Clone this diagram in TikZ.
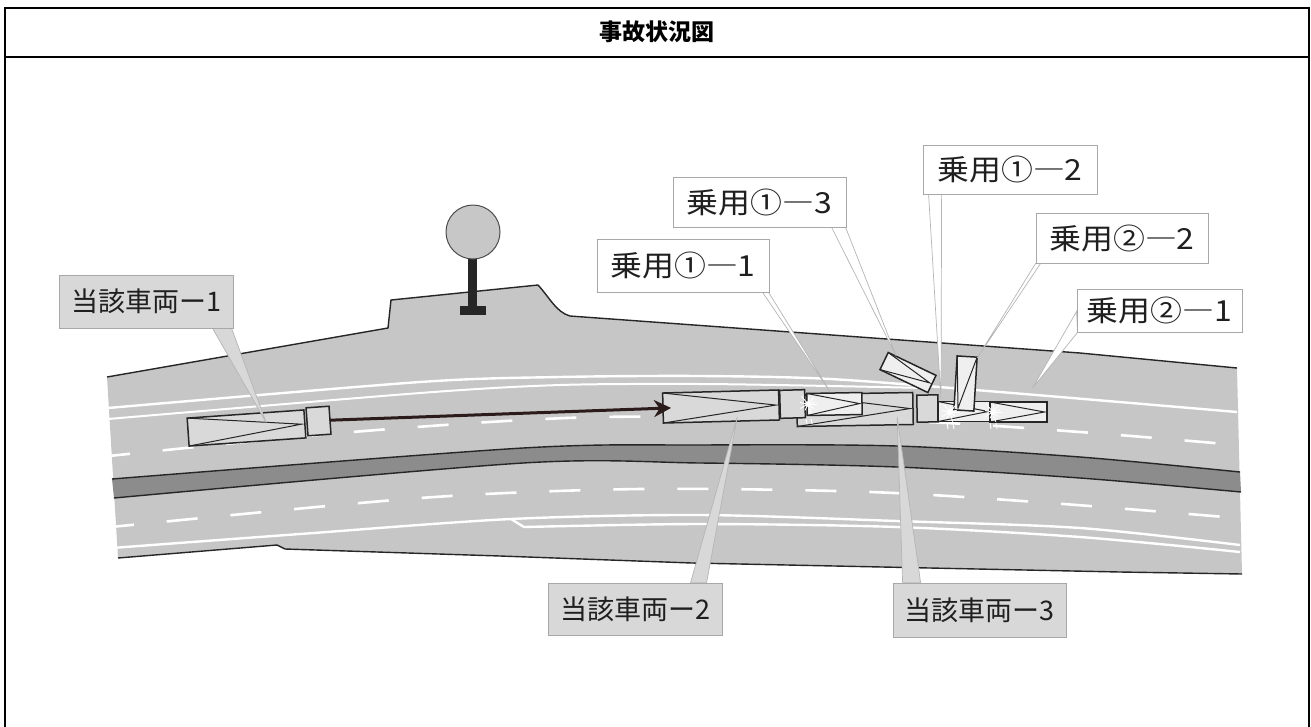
\documentclass[tikz,border=0pt]{standalone}
\usepackage{fontspec}
\setmainfont{Noto Sans CJK JP}
\usetikzlibrary{arrows.meta,calc}
\pgfdeclarelayer{ground}
\pgfdeclarelayer{leaders}
\pgfsetlayers{ground,leaders,main}

\definecolor{roadgray}{HTML}{C6C6C6}
\definecolor{mediangray}{HTML}{8C8C8C}
\definecolor{truckfill}{HTML}{D9D9D9}
\definecolor{carfill}{HTML}{EFEFEF}
\definecolor{tagfill}{HTML}{D8D8D8}
\definecolor{tagline}{HTML}{A8A8A8}
\definecolor{outline}{HTML}{262626}
\definecolor{arrowdark}{HTML}{2B1B1B}

\begin{document}
\begin{tikzpicture}[x=1pt,y=-1pt,
  kerb/.style={draw=outline,line width=1.4pt,line join=round},
  marking/.style={draw=white,line width=2.4pt},
  lanedash/.style={draw=white,line width=2.6pt,dash pattern=on 31pt off 33pt},
  truckbody/.style={draw=outline,fill=truckfill,line width=1.5pt},
  carbody/.style={draw=outline,fill=carfill,line width=1.5pt},
  vline/.style={draw=outline,line width=1pt},
  labelbox/.style={draw=tagline,line width=0.8pt,fill=tagfill,inner sep=0pt,
    text=black!88,font=\fontsize{27}{30}\selectfont},
  carlabel/.style={labelbox,fill=white,
    font=\fontsize{29}{32}\selectfont\addfontfeature{FakeStretch=1.1}},
  leadwedge/.style={draw=tagline!85,line width=0.7pt,fill=tagfill},
  carlead/.style={leadwedge,fill=white},
  crashmark/.pic={
    \fill[white,opacity=0.8] (0,0) circle (3pt);
    \foreach \a/\r in {0/9,40/7,75/10,115/7,150/9,190/8,230/10,270/7,310/9,345/7}
      \draw[white,line width=0.9pt] (0,0) -- (\a:\r);
  },
  skid/.style={draw=white,line width=1pt}
]
\useasboundingbox (0,0) rectangle (1311,726);

% ---- frame and title ----
\draw[line width=2pt] (5,8) rectangle (1309,760);
\draw[line width=2pt] (5,57) -- (1309,57);
\node[font=\bfseries\fontsize{23}{26}\selectfont] (title) at (657,32) {事故状況図};

\begin{pgfonlayer}{ground}
% ---- road surface ----
\fill[roadgray] (107,377) -- (388,328) -- (391,300) -- (538,285)
  .. controls (550,298) and (556,312) .. (570,316) -- (1080,353) -- (1237,368)
  -- (1242,574) -- (1120,572) -- (692,563) -- (500,556) -- (285,549) -- (277,545)
  -- (118,558) -- cycle;
\draw[kerb] (107,377) -- (388,328) -- (391,300) -- (538,285)
  .. controls (550,298) and (556,312) .. (570,316) -- (1080,353) -- (1237,368);
\draw[kerb] (118,558) -- (277,545) -- (285,549) -- (500,556) -- (692,563)
  -- (1120,572) -- (1242,574);

% ---- median strip ----
\fill[mediangray] plot[smooth] coordinates {(112,479) (523,448) (700,445) (897,446) (1080,457) (1240,472)}
  -- plot[smooth] coordinates {(1241,492) (1080,478) (897,467) (700,463) (523,463) (114,498)} -- cycle;
\draw[kerb] plot[smooth] coordinates {(112,479) (523,448) (700,445) (897,446) (1080,457) (1240,472)};
\draw[kerb] plot[smooth] coordinates {(114,498) (523,463) (700,463) (897,467) (1080,478) (1241,492)};

% ---- edge lines ----
\draw[marking] plot[smooth] coordinates {(108,408) (420,382) (560,377) (700,376) (830,379) (1000,392) (1237,412)};
\draw[marking,line width=2pt] plot[smooth] coordinates {(108,419) (420,393) (560,385) (700,384) (830,386) (925,388)};
\draw[marking] plot[smooth] coordinates {(112,548) (300,534) (511,519) (700,515) (897,521) (1080,528) (1240,545)};
\draw[marking] (511,519) -- plot[smooth] coordinates {(524,527) (700,524) (897,527) (1080,537) (1240,552)};

% ---- lane lines ----
\draw[lanedash,dash phase=10pt] plot[smooth] coordinates {(109,456) (352,432) (600,417) (900,421) (1080,432) (1237,445)};
\draw[lanedash,dash phase=8pt] plot[smooth] coordinates {(111,527) (420,498) (640,489) (870,492) (1050,503) (1237,518)};

% ---- roadside sign ----
\fill[outline] (468,258) rectangle (477,308);
\fill[outline] (460,306) rectangle (486,315);
\draw[draw=black!70,fill=black!22,line width=1pt] (473,232) circle (27pt);

% ---- vehicle 1 ----
\begin{scope}[shift={(246.5,428)},rotate=4]
  \draw[truckbody] (-58.5,-14) rectangle (58.5,14);
  \draw[vline] (-58.5,-14) -- (55,0) -- (-58.5,14);
  \coordinate (v1tip) at (20,-4);
\end{scope}
\begin{scope}[shift={(318.5,421)},rotate=4]
  \draw[truckbody] (-11.5,-14) rectangle (11.5,14);
  \coordinate (cab1front) at (11.5,0);
\end{scope}

% ---- vehicle 3 trailer ----
\begin{scope}[shift={(855,409.5)},rotate=1]
  \draw[truckbody] (-58,-16) rectangle (58,16);
  \draw[vline] (-58,-16) -- (55,0) -- (-58,16);
  \coordinate (v3tip) at (42,8);
\end{scope}
% ---- car 1-1 ----
\begin{scope}[shift={(834.5,404)},rotate=1]
  \draw[carbody] (-27.5,-11) rectangle (27.5,11);
  \draw[vline] (-27.5,-11) -- (25,0) -- (-27.5,11);
  \coordinate (c11tip) at (-4,-12);
\end{scope}
% ---- vehicle 2 ----
\begin{scope}[shift={(721,406.5)},rotate=1.5]
  \draw[truckbody] (-58,-15) rectangle (58,15);
  \draw[vline] (-58,-15) -- (55,0) -- (-58,15);
  \coordinate (tr2rear) at (-54,0);
  \coordinate (v2tip) at (16,11);
\end{scope}
\begin{scope}[shift={(792.5,404)},rotate=1.5]
  \draw[truckbody] (-12.5,-14) rectangle (12.5,14);
\end{scope}
% ---- vehicle 3 cab ----
\begin{scope}[shift={(927.5,408.5)},rotate=1]
  \draw[truckbody] (-10.5,-13.5) rectangle (10.5,13.5);
\end{scope}

% ---- car 1-3 ----
\begin{scope}[shift={(908,372.5)},rotate=-25.6]
  \draw[carbody] (-26.5,-9.5) rectangle (26.5,9.5);
  \draw[vline] (-26.5,-9.5) -- (24,0) -- (-26.5,9.5);
  \coordinate (c13tip) at (-18,-10);
\end{scope}
% ---- car 1-2 and car 2-1 ----
\begin{scope}[shift={(964,411.5)}]
  \draw[carbody] (-26,-10) rectangle (26,10);
  \draw[vline] (-26,-10) -- (24,0) -- (-26,10);
  \coordinate (c12tip) at (-23,-11);
\end{scope}
\begin{scope}[shift={(1018.5,412)}]
  \draw[carbody] (-28.5,-10) rectangle (28.5,10);
  \draw[vline] (-28.5,-10) -- (26,0) -- (-28.5,10);
  \coordinate (c21tip) at (14,-24);
\end{scope}
% ---- car 2-2 ----
\begin{scope}[shift={(965.5,383.5)},rotate=-3.5]
  \draw[carbody] (-10,-27) rectangle (10,27);
  \draw[vline] (-10,-27) -- (-6,25) -- (10,-27);
  \coordinate (c22tip) at (10,-26);
\end{scope}

% ---- impact points and skid marks ----
\pic at (808,404) {crashmark};
\pic at (950,412) {crashmark};
\pic at (993,412) {crashmark};
\foreach \x in {806,811} \draw[skid] (\x,419) -- (\x+1,424);
\foreach \x in {947,953} \draw[skid] (\x,423) -- (\x+1,429);
\foreach \x in {990,996} \draw[skid] (\x,423) -- (\x+1,429);

% ---- travel arrow ----
\draw[arrowdark,line width=3pt,-{Stealth[length=17pt,width=17pt]}] (cab1front) -- ([xshift=4pt]tr2rear);
\end{pgfonlayer}

% ---- labels ----
\node[labelbox,minimum width=174pt,minimum height=53pt] (t1) at (146,301.5) {当該車両ー1};
\node[labelbox,minimum width=174pt,minimum height=52pt] (t2) at (635,609) {当該車両ー2};
\node[labelbox,minimum width=173pt,minimum height=54pt] (t3) at (979.5,610) {当該車両ー3};
\node[carlabel,minimum width=172pt,minimum height=53pt] (l11) at (683,265.5) {乗用①―1};
\node[carlabel,minimum width=173pt,minimum height=50pt] (l13) at (759.5,202) {乗用①―3};
\node[carlabel,minimum width=174pt,minimum height=49pt] (l12) at (1010,169.5) {乗用①―2};
\node[carlabel,minimum width=172pt,minimum height=50pt] (l22) at (1122,238) {乗用②―2};
\node[carlabel,minimum width=165pt,minimum height=43pt] (l21) at (1159.5,310.5) {乗用②―1};

% ---- leaders ----
\begin{pgfonlayer}{leaders}
\draw[leadwedge] ($(t1.south west)+(154,0)$) -- (v1tip) -- ($(t1.south west)+(173,0)$) -- cycle;
\draw[leadwedge] ($(t2.north west)+(143,0)$) -- (v2tip) -- ($(t2.north west)+(159,0)$) -- cycle;
\draw[leadwedge] ($(t3.north west)+(10,0)$) -- (v3tip) -- ($(t3.north west)+(28,0)$) -- cycle;
\draw[carlead] ($(l11.south west)+(166,0)$) -- (c11tip) -- ($(l11.south west)+(172,0)$) -- cycle;
\draw[carlead] ($(l13.south west)+(159,0)$) -- (c13tip) -- ($(l13.south west)+(173,0)$) -- cycle;
\draw[carlead] ($(l12.south west)+(6,0)$) -- (c12tip) -- ($(l12.south west)+(19,0)$) -- cycle;
\draw[carlead] ($(l22.south west)+(0,0)$) -- (c22tip) -- ($(l22.south west)+(5,0)$) -- cycle;
\draw[carlead] ($(l21.south west)+(0,-21)$) -- (c21tip) -- ($(l21.south west)+(1,0)$) -- cycle;
\end{pgfonlayer}
\end{tikzpicture}
\end{document}
